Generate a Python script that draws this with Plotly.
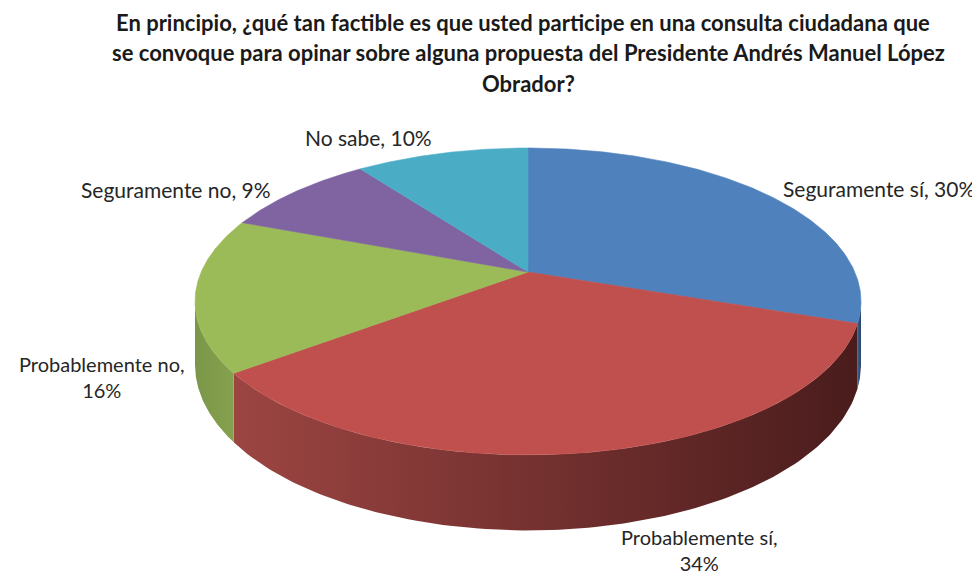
import numpy as np
import plotly.graph_objects as go

# ---- data ----
categories = ["Seguramente sí", "Probablemente sí", "Probablemente no", "Seguramente no", "No sabe"]
values = [30, 34, 16, 9, 10]
top_colors = ["#4F81BD", "#C0504D", "#9BBB59", "#8064A2", "#4BACC6"]
side_colors = [("#3A5F8C", "#2A4468"), ("#9C4542", "#4A1C1C"), ("#7A9648", "#86A24F"),
               ("#5E4A78", "#4A3A60"), ("#378093", "#2C6676")]
title_lines = [
    "En principio, ¿qué tan factible es que usted participe en una consulta ciudadana que",
    "se convoque para opinar sobre alguna propuesta del Presidente Andrés Manuel López",
    "Obrador?",
]

# ---- 3D pie projection (layout geometry) ----
XC, YC = 528.0, 272.0      # projected pie centre
SX, KY = 326.8, 147.8      # horizontal / vertical radii factors
PERSP = 0.192              # perspective factor
DEPTH = 61.0               # thickness of the pie


def proj(theta, bottom=False):
    x = np.sin(theta)
    y = np.cos(theta)
    d = 1 + PERSP * y
    X = XC + SX * x / d
    Y = YC - KY * y / d
    if bottom:
        Y = Y + DEPTH / d
    return X, Y


fig = go.Figure()

total = float(sum(values))
bounds = np.concatenate([[0], np.cumsum(values)]) / total * 2 * np.pi
vis_lo = np.arccos(-PERSP)
vis_hi = 2 * np.pi - vis_lo

# side walls (front, visible part only)
for i, cat in enumerate(categories):
    a0, a1 = max(bounds[i], vis_lo), min(bounds[i + 1], vis_hi)
    if a1 <= a0:
        continue
    t = np.linspace(a0, a1, 120)
    xt, yt = proj(t)
    xb, yb = proj(t[::-1], bottom=True)
    xs = np.concatenate([xt, xb, xt[:1]])
    ys = np.concatenate([yt, yb, yt[:1]])
    c0, c1 = side_colors[i]
    fig.add_trace(go.Scatter(
        x=xs, y=ys, mode="lines", fill="toself",
        line=dict(width=0, color=c1),
        fillgradient=dict(type="horizontal", colorscale=[[0, c0], [1, c1]]),
        hoverinfo="skip", showlegend=False))

# top faces
for i, cat in enumerate(categories):
    t = np.linspace(bounds[i], bounds[i + 1], 200)
    xt, yt = proj(t)
    xs = np.concatenate([[XC], xt, [XC]])
    ys = np.concatenate([[YC], yt, [YC]])
    fig.add_trace(go.Scatter(
        x=xs, y=ys, mode="lines", fill="toself",
        fillcolor=top_colors[i], line=dict(width=0.6, color=top_colors[i]),
        name=cat, hoverinfo="name", showlegend=False))

# ---- labels ----
FONT = "Lato, Carlito, sans-serif"
labels = [
    (f"{categories[0]}, {values[0]}%", 879, 188, "middle", 21),
    (f"{categories[1]},<br>{values[1]}%", 699, 576, "bottom", 20),
    (f"{categories[2]},<br>{values[2]}%", 102, 377, "middle", 20),
    (f"{categories[3]}, {values[3]}%", 176, 189, "middle", 21),
    (f"{categories[4]}, {values[4]}%", 368, 137, "middle", 21),
]
for txt, lx, ly, ya, fs in labels:
    fig.add_annotation(x=lx, y=ly, xref="x", yref="y", text=txt, showarrow=False,
                       font=dict(family=FONT, size=fs, color="#262626"),
                       align="center", xanchor="center", yanchor=ya, borderpad=0)

title_font = dict(family=FONT, size=22, color="#1a1a1a")
for line, tx, ty in zip(title_lines, [523, 528, 528], [22, 52, 83]):
    fig.add_annotation(x=tx, y=ty, xref="x", yref="y", text=f"<b>{line}</b>", showarrow=False,
                       font=title_font, xanchor="center", yanchor="middle")

# page body has an 8px margin: the figure starts at page pixel (8, 8)
fig.update_layout(
    width=972, height=569,
    margin=dict(l=0, r=0, t=0, b=0),
    paper_bgcolor="white", plot_bgcolor="white",
    xaxis=dict(range=[8, 980], visible=False, fixedrange=True),
    yaxis=dict(range=[577, 8], visible=False, fixedrange=True),
)

fig.write_html("out.html")
